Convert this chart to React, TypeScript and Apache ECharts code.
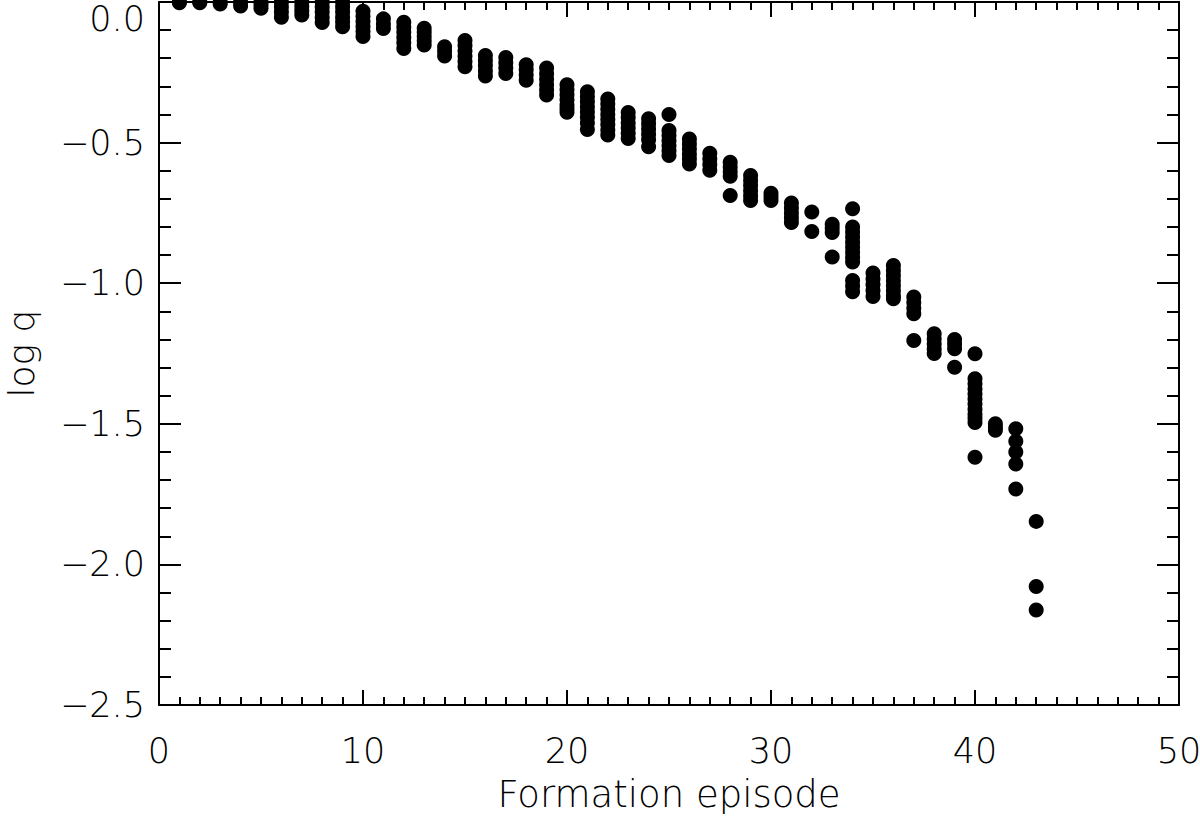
import React, { useEffect, useRef } from "react";
import * as echarts from "echarts";

// Formation episode (x) and the log q values plotted for each episode (y)
const episodes: number[] = [
  1, 2, 3, 4, 5, 6, 7, 8, 9, 10,
  11, 12, 13, 14, 15, 16, 17, 18, 19, 20,
  21, 22, 23, 24, 25, 26, 27, 28, 29, 30,
  31, 32, 33, 34, 35, 36, 37, 38, 39, 40,
  41, 42, 43,
];

const logQ: number[][] = [
  [0, -0.003],
  [0, -0.003],
  [0, -0.007],
  [0, -0.014],
  [0, -0.011, -0.022],
  [0, -0.018, -0.036, -0.054],
  [0, -0.016, -0.031, -0.046],
  [0, -0.018, -0.036, -0.055, -0.073],
  [0, -0.018, -0.036, -0.054, -0.071, -0.088],
  [-0.033, -0.051, -0.069, -0.087, -0.105, -0.123],
  [-0.06, -0.078, -0.094],
  [-0.072, -0.09, -0.108, -0.126, -0.145, -0.165],
  [-0.093, -0.108, -0.123, -0.138, -0.153],
  [-0.159, -0.175, -0.192],
  [-0.137, -0.155, -0.174, -0.193, -0.212, -0.23],
  [-0.19, -0.208, -0.226, -0.245, -0.263],
  [-0.197, -0.216, -0.235, -0.254],
  [-0.223, -0.241, -0.26, -0.278],
  [-0.235, -0.255, -0.275, -0.294, -0.313, -0.331],
  [-0.294, -0.312, -0.33, -0.348, -0.366, -0.38, -0.392],
  [-0.319, -0.337, -0.355, -0.373, -0.391, -0.41, -0.43, -0.453],
  [-0.345, -0.363, -0.381, -0.4, -0.418, -0.436, -0.455, -0.473],
  [-0.393, -0.411, -0.43, -0.448, -0.467, -0.485],
  [-0.415, -0.433, -0.452, -0.47, -0.49, -0.515],
  [-0.4, -0.457, -0.475, -0.493, -0.511, -0.529, -0.546],
  [-0.487, -0.505, -0.523, -0.541, -0.558, -0.576],
  [-0.538, -0.558, -0.578, -0.598],
  [-0.57, -0.587, -0.604, -0.62, -0.688],
  [-0.617, -0.635, -0.653, -0.671, -0.689, -0.706],
  [-0.68, -0.693, -0.706],
  [-0.715, -0.733, -0.75, -0.767, -0.784],
  [-0.747, -0.816],
  [-0.79, -0.805, -0.82, -0.907],
  [-0.735, -0.8, -0.818, -0.836, -0.854, -0.872, -0.89, -0.908, -0.925, -0.99, -1.01, -1.03],
  [-0.964, -0.985, -1.005, -1.026, -1.047],
  [-0.937, -0.955, -0.973, -0.991, -1.009, -1.027, -1.045, -1.055],
  [-1.049, -1.069, -1.089, -1.109, -1.204],
  [-1.18, -1.198, -1.216, -1.234, -1.25],
  [-1.2, -1.216, -1.233, -1.299],
  [-1.251, -1.34, -1.358, -1.376, -1.394, -1.412, -1.43, -1.448, -1.466, -1.48, -1.495, -1.619],
  [-1.5, -1.512, -1.523],
  [-1.518, -1.562, -1.6, -1.643, -1.732],
  [-1.847, -2.079, -2.162],
];

const xTicks = { min: 0, max: 50, interval: 10 };
const yTicks = { min: -2.5, max: 0, interval: 0.5 };
const xTitle = "Formation episode";
const yTitle = "log q";

const FONT = "'DejaVu Sans', sans-serif";

function fmtY(v: number): string {
  return v === 0 ? "0.0" : "\u2212" + Math.abs(v).toFixed(1);
}

export default function App() {
  const ref = useRef<HTMLDivElement>(null);

  useEffect(() => {
    if (!ref.current) return;
    const chart = echarts.init(ref.current, undefined, { renderer: "svg" });

    const points: number[][] = [];
    episodes.forEach((ep, i) => {
      logQ[i].forEach((v) => points.push([ep, v]));
    });

    const line = { color: "#000", width: 2 };
    const labelStyle = {
      color: "#000",
      fontSize: 35,
      fontFamily: FONT,
      fontWeight: 200 as any,
    };

    const xBase = {
      type: "value" as const,
      min: xTicks.min,
      max: xTicks.max,
      interval: xTicks.interval,
      axisLine: { show: true, onZero: false, lineStyle: line },
      axisTick: { show: true, inside: true, length: 15, lineStyle: line },
      minorTick: { show: true, splitNumber: 10, length: 8, lineStyle: line },
      splitLine: { show: false },
      minorSplitLine: { show: false },
    };
    const yBase = {
      type: "value" as const,
      min: yTicks.min,
      max: yTicks.max,
      interval: yTicks.interval,
      axisLine: { show: true, onZero: false, lineStyle: line },
      axisTick: { show: true, inside: true, length: 22, lineStyle: line },
      minorTick: { show: true, splitNumber: 5, length: 12, lineStyle: line },
      splitLine: { show: false },
      minorSplitLine: { show: false },
    };

    chart.setOption({
      animation: false,
      backgroundColor: "#fff",
      grid: {
        left: 159,
        right: 21,
        top: 2,
        bottom: 115,
        containLabel: false,
        outerBoundsMode: "none",
      },
      xAxis: [
        {
          ...xBase,
          position: "bottom",
          axisLabel: { ...labelStyle, margin: 28 },
          name: xTitle,
          nameLocation: "middle",
          nameGap: 71,
          nameTextStyle: { ...labelStyle, fontSize: 37 },
        },
        {
          ...xBase,
          position: "top",
          axisLabel: { show: false },
        },
      ],
      yAxis: [
        {
          ...yBase,
          position: "left",
          axisLabel: {
            ...labelStyle,
            margin: 14,
            formatter: (v: number) => (v === 0 ? "" : fmtY(v)),
          },
          name: yTitle,
          nameLocation: "middle",
          nameRotate: 90,
          nameGap: 120,
          nameTextStyle: { ...labelStyle, fontSize: 36 },
        },
        {
          ...yBase,
          position: "right",
          axisLabel: { show: false },
        },
      ],
      series: [
        {
          type: "scatter",
          xAxisIndex: 0,
          yAxisIndex: 0,
          data: points,
          symbol: "circle",
          symbolSize: 15,
          clip: false,
          itemStyle: { color: "#000", opacity: 1 },
        },
      ],
    });

    // top tick label (0.0), placed through the axis scale, nudged inside the page
    const topPx = chart.convertToPixel({ yAxisIndex: 0 }, yTicks.max) as number;
    const leftPx = chart.convertToPixel({ xAxisIndex: 0 }, xTicks.min) as number;
    chart.setOption({
      graphic: [
        {
          type: "text",
          x: leftPx - 14,
          y: Math.max(1, topPx - 1),
          style: {
            text: fmtY(yTicks.max),
            fill: "#000",
            font: `200 35px ${FONT}`,
            align: "right",
            verticalAlign: "top",
          },
        },
      ],
    });

    return () => chart.dispose();
  }, []);

  return (
    <div
      ref={ref}
      style={{ position: "absolute", left: 0, top: 0, width: 1200, height: 820 }}
    />
  );
}
